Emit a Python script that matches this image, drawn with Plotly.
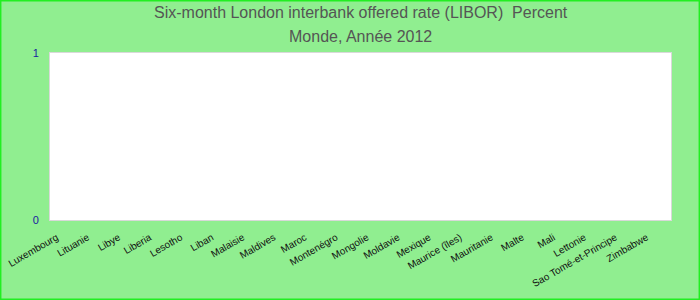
import plotly.graph_objects as go

categories = ["Luxembourg", "Lituanie", "Libye", "Liberia", "Lesotho", "Liban",
              "Malaisie", "Maldives", "Maroc", "Montenégro", "Mongolie", "Moldavie",
              "Mexique", "Maurice (îles)", "Mauritanie", "Malte", "Mali", "Lettonie",
              "Sao Tomé-et-Principe", "Zimbabwe"]
values = [None, None, None, None, None, None, None, None, None, None,
          None, None, None, None, None, None, None, None, None, None]
y_ticks = [0, 1]
title_line1 = "Six-month London interbank offered rate (LIBOR)&nbsp; Percent"
title_line2 = "Monde, Année 2012"

fig = go.Figure()
fig.add_trace(go.Bar(x=categories, y=values, marker_color="#4a7ebb", showlegend=False))

W, H = 700, 300
mt, mb, ml, mr = 53, 80, 50, 29
ph = H - mt - mb

def py(pix):
    return 1 + (mt - pix) / ph

fig.update_layout(
    width=W, height=H,
    margin=dict(l=ml, r=mr, t=mt, b=mb, pad=0, autoexpand=False),
    paper_bgcolor="#90EE90",
    plot_bgcolor="#FFFFFF",
    font=dict(family="Liberation Sans, Arial, sans-serif"),
    annotations=[
        dict(text=title_line1, x=0.5, xref="paper", xanchor="center",
             y=py(13), yref="paper", yanchor="middle", showarrow=False,
             font=dict(size=16, color="#555555")),
        dict(text=title_line2, x=0.5, xref="paper", xanchor="center",
             y=py(36), yref="paper", yanchor="middle", showarrow=False,
             font=dict(size=16, color="#555555")),
    ],
    shapes=[
        dict(type="rect", xref="paper", yref="paper",
             x0=-ml / (W - ml - mr) + 0.0007, x1=1 + mr / (W - ml - mr) - 0.0007,
             y0=-mb / ph + 0.003, y1=1 + mt / ph - 0.003,
             line=dict(color="#22EE22", width=2), layer="below"),
    ],
)
fig.update_xaxes(
    type="category", tickangle=-30, showgrid=False, automargin=False,
    tickfont=dict(size=10, color="#111111"),
    showline=True, linecolor="#D9D9D9", linewidth=1, mirror=True,
    ticks="", zeroline=False, ticklabelshift=-9, ticklabelstandoff=7,
)
fig.update_yaxes(
    range=[0, 1], tickvals=y_ticks, ticktext=[str(v) for v in y_ticks],
    showgrid=False, zeroline=False, automargin=False,
    tickfont=dict(size=11, color="#1a1aa0"),
    showline=True, linecolor="#D9D9D9", linewidth=1, mirror=True,
    ticks="", ticklabelstandoff=8,
)

fig.write_html("out.html")
